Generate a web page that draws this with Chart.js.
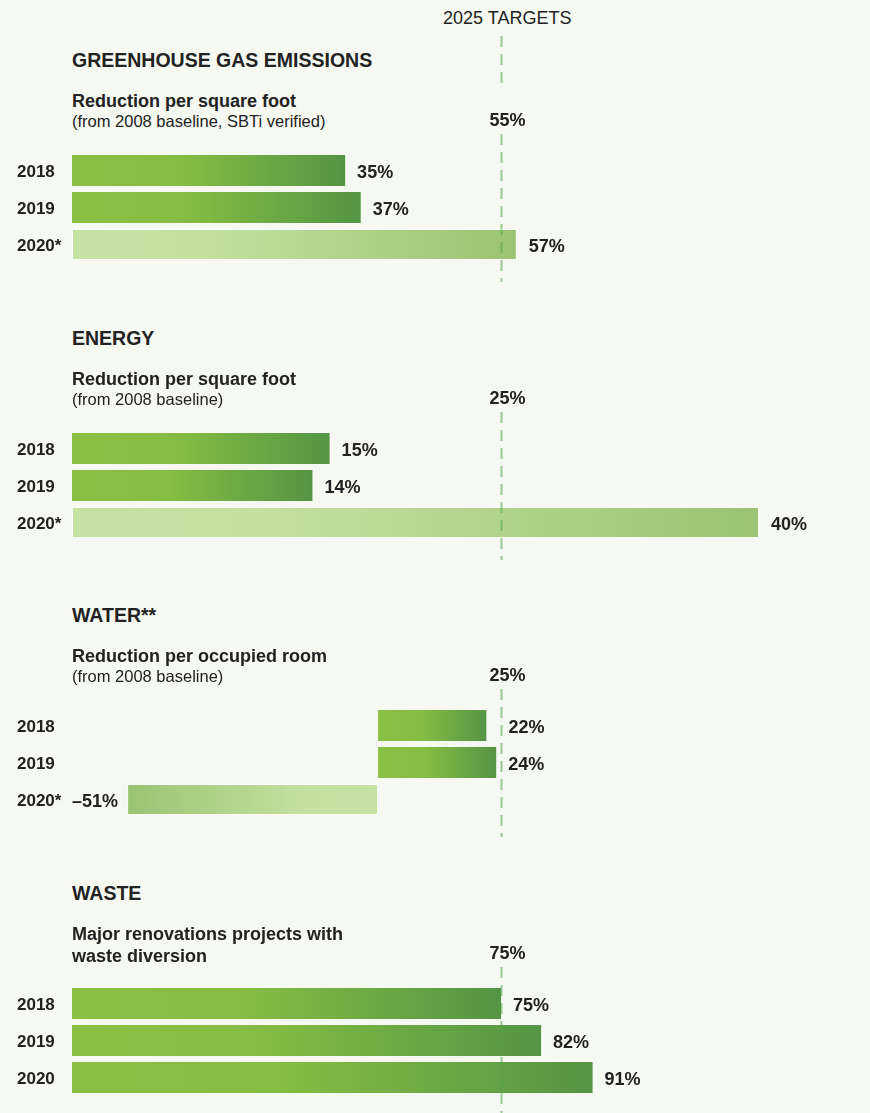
<!DOCTYPE html>
<html>
<head>
<meta charset="utf-8">
<script src="https://cdn.jsdelivr.net/npm/chart.js@4.4.1/dist/chart.umd.min.js"></script>
<style>
  html, body { margin: 0; padding: 0; }
  body {
    width: 870px; height: 1113px; overflow: hidden; position: relative;
    background: #f6f9f2; color: #222;
    font-family: "Liberation Sans", Arial, sans-serif;
  }
  .txt { position: absolute; left: 72px; white-space: nowrap; }
  .title { font-weight: bold; font-size: 19.5px; line-height: 19.5px; }
  .sub { font-weight: bold; font-size: 18px; line-height: 18px; }
  .note { font-size: 16.5px; line-height: 16.5px; }
  .head { position: absolute; left: 443px; top: 9px; font-size: 18px; line-height: 18px; }
  canvas { position: absolute; left: 0; }
</style>
</head>
<body>
<div class="head">2025 TARGETS</div>
<div id="root"></div>
<script>
  // data
  const years = ["2018", "2019", "2020*"];
  const wasteYears = ["2018", "2019", "2020"];

  const ghgValues = [35, 37, 57];
  const energyValues = [15, 14, 40];
  const waterValues = [22, 24, -51];
  const wasteValues = [75, 82, 91];

  const targets = [55, 25, 25, 75];

  const titles = ["GREENHOUSE GAS EMISSIONS", "ENERGY", "WATER**", "WASTE"];
  const subtitles = [
    ["Reduction per square foot"],
    ["Reduction per square foot"],
    ["Reduction per occupied room"],
    ["Major renovations projects with", "waste diversion"]
  ];
  const notes = ["(from 2008 baseline, SBTi verified)", "(from 2008 baseline)", "(from 2008 baseline)", null];

  // x axis ranges, so every panel puts its target on the same line
  const axisMin = [0, 0, -62.2, 0];
  const axisMax = [99.7, 45.3, 95.9, 136];

  const panels = [
    { labels: years, values: ghgValues },
    { labels: years, values: energyValues },
    { labels: years, values: waterValues },
    { labels: wasteYears, values: wasteValues }
  ];

  const FONT = '"Liberation Sans", Arial, sans-serif';
  const PANEL_H = 289;

  const isPale = (c) => String(c.chart.data.labels[c.dataIndex]).endsWith("*");

  /* bar fill: light at the base, darker toward the tip */
  const barFill = (c) => {
    const { ctx, chartArea, scales } = c.chart;
    if (!chartArea || c.type !== "data") return "#86bf41";
    const x0 = scales.x.getPixelForValue(0);
    const x1 = scales.x.getPixelForValue(c.raw);
    const g = ctx.createLinearGradient(x0, 0, x1, 0);
    if (isPale(c)) {
      g.addColorStop(0, "#c6e2a3");
      g.addColorStop(0.3, "#c3e09f");
      g.addColorStop(1, "#9bc373");
    } else {
      g.addColorStop(0, "#8bc042");
      g.addColorStop(0.4, "#85bd42");
      g.addColorStop(1, "#549545");
    }
    return g;
  };

  const targetPlugin = {
    id: "targetLine",
    afterDatasetsDraw(chart, args, opts) {
      const { ctx, chartArea, scales } = chart;
      const tx = Math.round(scales.x.getPixelForValue(opts.target)) + 0.5;

      // dashed target line
      ctx.save();
      ctx.strokeStyle = "rgba(80,160,70,0.55)";
      ctx.lineWidth = 2;
      ctx.setLineDash([11, 7]);
      ctx.beginPath();
      ctx.moveTo(tx, chartArea.top - 18);
      ctx.lineTo(tx, chartArea.bottom + 19);
      if (opts.header) {
        ctx.moveTo(tx, chartArea.top - 116);
        ctx.lineTo(tx, chartArea.top - 63);
      }
      ctx.stroke();
      ctx.restore();

      // labels
      ctx.save();
      ctx.fillStyle = "#222";
      ctx.font = "bold 18px " + FONT;
      ctx.textAlign = "center";
      ctx.fillText(opts.target + "%", tx + 6, chartArea.top - 26);

      const meta = chart.getDatasetMeta(0);
      const data = chart.data.datasets[0].data;
      meta.data.forEach((bar, i) => {
        const v = data[i];
        const y = bar.y + 7;
        if (v < 0) {
          ctx.textAlign = "right";
          ctx.fillText("–" + Math.abs(v) + "%", bar.x - 9, y);
        } else {
          const txt = v + "%";
          const w = ctx.measureText(txt).width;
          let x = bar.x + 12;
          if (x < tx + 4 && x + w > tx - 3) x = tx + 7;
          ctx.textAlign = "left";
          ctx.fillText(txt, x, y);
        }
      });
      ctx.restore();
    }
  };

  const root = document.getElementById("root");

  panels.forEach((p, i) => {
    const top = Math.round(i * 277.5);

    // headings
    const addText = (cls, text, baseline, size) => {
      const d = document.createElement("div");
      d.className = "txt " + cls;
      d.textContent = text;
      d.style.top = (top + baseline - 0.8465 * size) + "px";
      root.appendChild(d);
    };
    addText("title", titles[i], 68, 19.5);
    subtitles[i].forEach((s, k) => addText("sub", s, 107 + k * 22, 18));
    if (notes[i]) addText("note", notes[i], 127, 16.5);

    const canvas = document.createElement("canvas");
    canvas.width = 870;
    canvas.height = PANEL_H;
    canvas.style.top = top + "px";
    root.appendChild(canvas);

    new Chart(canvas, {
      type: "bar",
      data: {
        labels: p.labels,
        datasets: [{
          data: p.values,
          backgroundColor: barFill,
          borderColor: (c) => (isPale(c) ? "rgba(255,255,255,0.45)" : "rgba(0,0,0,0)"),
          borderWidth: (c) => (isPale(c) ? 1 : 0),
          borderSkipped: false,
          categoryPercentage: 1,
          barPercentage: 31 / 37
        }]
      },
      options: {
        indexAxis: "y",
        responsive: false,
        animation: false,
        events: [],
        layout: { padding: { left: 17, right: 20, top: 152, bottom: PANEL_H - 152 - 111 } },
        scales: {
          x: { display: false, min: axisMin[i], max: axisMax[i] },
          y: {
            grid: { display: false },
            border: { display: false },
            ticks: {
              crossAlign: "far",
              labelOffset: 2,
              color: "#222",
              font: { family: FONT, size: 17, weight: "bold" }
            },
            afterFit: (s) => { s.width = 55; }
          }
        },
        plugins: {
          legend: { display: false },
          tooltip: { enabled: false },
          targetLine: { target: targets[i], header: i === 0 }
        }
      },
      plugins: [targetPlugin]
    });
  });
</script>
</body>
</html>
